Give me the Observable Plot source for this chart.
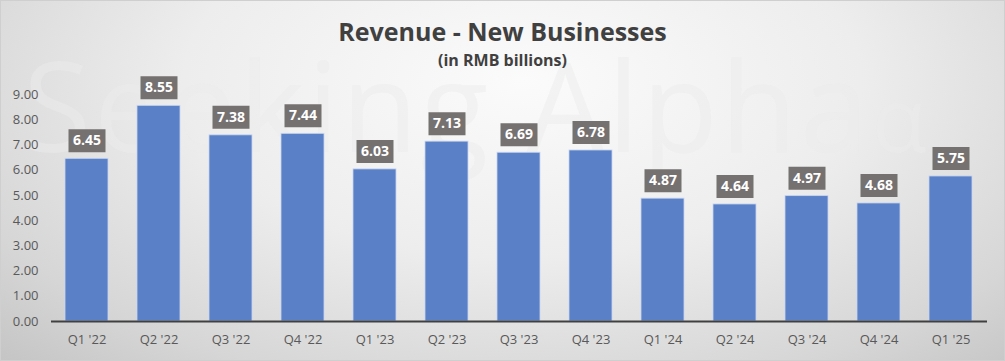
<!DOCTYPE html>
<html>
<head>
<meta charset="utf-8">
<script src="https://cdn.jsdelivr.net/npm/d3@7"></script>
<script src="https://cdn.jsdelivr.net/npm/@observablehq/plot@0.6"></script>
<style>
  html, body { margin: 0; padding: 0; }
  #wrap {
    position: relative; width: 1005px; height: 361px; overflow: hidden; box-sizing: border-box;
    border: 1px solid #cfcfcf;
    background: radial-gradient(ellipse 75% 110% at 52% 22%, #fbfbfb 0%, #ededed 45%, #d6d6d6 80%, #c4c4c4 100%);
    font-family: "Open Sans", "Noto Sans", sans-serif;
  }
  #wm {
    position: absolute; left: 22px; top: 18px; font-size: 124px; font-family: "Open Sans", sans-serif;
    color: rgba(235,235,235,0.5); white-space: nowrap; letter-spacing: 3px; pointer-events: none;
  }
  #title { position: absolute; top: 13px; width: 100%; text-align: center; font-size: 25px; font-weight: bold; color: #404040; }
  #sub { position: absolute; top: 48px; width: 100%; text-align: center; font-size: 16px; font-weight: bold; color: #404040; }
  #chart { position: absolute; left: 0; top: 60px; }
</style>
</head>
<body>
<div id="wrap">
  <div id="wm">Seeking Alpha<span style="font-size:90px">α</span></div>
  <div id="title">Revenue - New Businesses</div>
  <div id="sub">(in RMB billions)</div>
  <div id="chart"></div>
</div>
<script>
const quarters = ["Q1 '22","Q2 '22","Q3 '22","Q4 '22","Q1 '23","Q2 '23","Q3 '23","Q4 '23","Q1 '24","Q2 '24","Q3 '24","Q4 '24","Q1 '25"];
const revenue = [6.45, 8.55, 7.38, 7.44, 6.03, 7.13, 6.69, 6.78, 4.87, 4.64, 4.97, 4.68, 5.75];
const yTicks = [0,1,2,3,4,5,6,7,8,9];

const data = quarters.map((q, i) => ({q, v: revenue[i]}));
const box = { draw(ctx) { ctx.rect(-18.5, -11.5, 37, 23); } };

const chart = Plot.plot({
  width: 1003,
  height: 300,
  marginTop: 33,
  marginBottom: 40,
  marginLeft: 50,
  marginRight: 17,
  style: { background: "transparent", fontFamily: "'Open Sans', sans-serif", fontSize: "13px", color: "#595959" },
  x: { domain: quarters, paddingInner: 0.4, paddingOuter: 0.2, label: null, tickSize: 0, tickPadding: 13 },
  y: { domain: [0, 9], ticks: yTicks, tickFormat: d => d.toFixed(2), label: null, tickSize: 0, tickPadding: 13 },
  marks: [
    Plot.barY(data, { x: "q", y: "v", fill: "#5a80c7", stroke: "#c8d5ee", strokeWidth: 0.8 }),
    Plot.ruleY([0], { stroke: "#404040", strokeWidth: 2 }),
    Plot.dot(data, { x: "q", y: "v", symbol: box, fill: "#767171", stroke: "none", dy: -18 }),
    Plot.text(data, { x: "q", y: "v", text: d => d.v.toFixed(2), fill: "white", fontWeight: "bold", fontSize: 14, dy: -18 })
  ]
});
document.getElementById("chart").appendChild(chart);
</script>
</body>
</html>
